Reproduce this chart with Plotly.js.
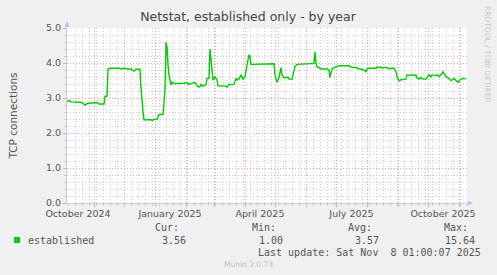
<!DOCTYPE html>
<html>
<head>
<meta charset="utf-8">
<script src="https://cdn.plot.ly/plotly-3.0.1.min.js"></script>
<style>
html,body{margin:0;padding:0;background:#f0f0f0;}
#chart{width:497px;height:275px;}
</style>
</head>
<body>
<div id="chart"></div>
<script>
// ---- data ----
const dates = [
 '2024-10-05','2024-10-07','2024-10-09','2024-10-19','2024-10-20','2024-10-23','2024-10-25','2024-10-27',
 '2024-11-03','2024-11-04','2024-11-06','2024-11-11','2024-11-12','2024-11-14','2024-11-15','2024-11-17',
 '2024-11-26','2024-11-29','2024-12-01','2024-12-04','2024-12-06','2024-12-08','2024-12-09','2024-12-11',
 '2024-12-13','2024-12-17','2024-12-18','2024-12-20','2024-12-21','2024-12-28','2024-12-29','2024-12-31',
 '2025-01-03','2025-01-05','2025-01-09','2025-01-10','2025-01-11','2025-01-12','2025-01-13','2025-01-14',
 '2025-01-15','2025-01-17','2025-01-18','2025-01-20','2025-01-28','2025-01-30','2025-02-02','2025-02-04',
 '2025-02-07','2025-02-10','2025-02-12','2025-02-13','2025-02-15','2025-02-16','2025-02-18','2025-02-21',
 '2025-02-22','2025-02-24','2025-02-25','2025-02-26','2025-02-27','2025-02-28','2025-03-02','2025-03-04',
 '2025-03-05','2025-03-13','2025-03-14','2025-03-16','2025-03-21','2025-03-23','2025-03-24','2025-03-26',
 '2025-03-28','2025-03-30','2025-04-01','2025-04-02','2025-04-03','2025-04-05','2025-04-06','2025-04-07',
 '2025-04-20','2025-04-22','2025-04-30','2025-05-01','2025-05-02','2025-05-03','2025-05-05','2025-05-07',
 '2025-05-08','2025-05-10','2025-05-14','2025-05-15','2025-05-18','2025-05-21','2025-05-23','2025-06-09',
 '2025-06-10','2025-06-11','2025-06-12','2025-06-14','2025-06-16','2025-06-22','2025-06-24','2025-06-25',
 '2025-06-27','2025-06-29','2025-07-02','2025-07-04','2025-07-14','2025-07-16','2025-07-21','2025-07-24',
 '2025-07-27','2025-07-29','2025-07-31','2025-08-01','2025-08-03','2025-08-10','2025-08-11','2025-08-13',
 '2025-08-15','2025-08-16','2025-08-18','2025-08-21','2025-08-23','2025-08-25','2025-08-28','2025-08-30',
 '2025-08-31','2025-09-02','2025-09-04','2025-09-07','2025-09-09','2025-09-10','2025-09-19','2025-09-20',
 '2025-09-22','2025-09-24','2025-09-26','2025-09-29','2025-09-30','2025-10-02','2025-10-04','2025-10-05',
 '2025-10-09','2025-10-10','2025-10-12','2025-10-14','2025-10-16','2025-10-19','2025-10-22','2025-10-24',
 '2025-10-27','2025-10-29','2025-10-31','2025-11-03','2025-11-06','2025-11-08'
];
const established = [
 2.89,2.93,2.89,2.89,2.87,2.80,2.84,2.85,
 2.85,2.87,2.83,2.83,3.05,3.05,3.83,3.85,
 3.85,3.83,3.85,3.84,3.82,3.84,3.80,3.77,
 3.82,3.82,3.28,2.61,2.38,2.38,2.36,2.39,
 2.39,2.53,2.53,2.85,3.25,4.59,4.47,3.94,
 3.66,3.37,3.45,3.41,3.41,3.42,3.44,3.39,
 3.42,3.45,3.36,3.32,3.32,3.39,3.34,3.39,
 3.56,3.56,4.40,4.07,3.61,3.51,3.61,3.51,
 3.35,3.34,3.31,3.39,3.39,3.56,3.51,3.54,
 3.66,3.54,3.61,3.85,3.94,4.23,4.18,3.96,
 3.96,3.98,3.98,3.66,3.56,3.45,3.58,3.87,
 3.66,3.58,3.59,3.54,3.54,3.90,3.96,3.99,
 4.32,3.98,3.90,3.87,3.83,3.83,3.80,3.59,
 3.83,3.87,3.90,3.92,3.92,3.88,3.87,3.83,
 3.82,3.80,3.75,3.83,3.85,3.85,3.89,3.87,
 3.89,3.85,3.87,3.87,3.83,3.85,3.85,3.75,
 3.61,3.49,3.52,3.52,3.54,3.66,3.65,3.58,
 3.54,3.58,3.54,3.54,3.58,3.66,3.61,3.66,
 3.64,3.66,3.61,3.66,3.75,3.61,3.56,3.49,
 3.56,3.51,3.45,3.54,3.56,3.54
];
const xRange = ['2024-10-05', '2025-11-09'];
const monthLabelDates = ['2024-10-16','2025-01-16','2025-04-16','2025-07-16 12:00','2025-10-16'];
const monthLabels = ['October 2024','January 2025','April 2025','July 2025','October 2025'];
const seriesName = 'established';
const statLabels = ['Cur:','Min:','Avg:','Max:'];
const statValues = ['3.56','1.00','3.57','15.64'];
const lastUpdate = 'Last update: Sat Nov\u00a0\u00a08 01:00:07 2025';

// ---- styling ----
const FONT = 'DejaVu Sans, sans-serif';
const MONO = 'DejaVu Sans Mono, monospace';
const MGRID = '#eaa0a0';
const GRID = '#cdcdcd';
const AXIS = '#c6caf2';
const L = 67, T = 28, W = 400, H = 175;
const px = x => (x - L) / W;
const py = y => (T + H - y) / H;

const trace = {
  x: dates, y: established, type: 'scatter', mode: 'lines',
  name: seriesName, line: {color: '#00cc00', width: 1.4}, hoverinfo: 'x+y'
};
// empty trace so the label axis (x2) gets drawn
const labelAxisTrace = {x: [], y: [], type: 'scatter', mode: 'lines', xaxis: 'x2', yaxis: 'y',
  showlegend: false, hoverinfo: 'skip'};

const statX = [181, 278, 374, 470];
const valX = [188, 285, 381, 477];
const annotations = [];
statLabels.forEach((s, i) => {
  annotations.push({xref:'paper', yref:'paper', x: px(statX[i]), y: py(227.5), xanchor:'right', yanchor:'middle',
    text: s, showarrow:false, font:{family:MONO, size:10, color:'#555'}});
  annotations.push({xref:'paper', yref:'paper', x: px(valX[i]), y: py(240), xanchor:'right', yanchor:'middle',
    text: statValues[i], showarrow:false, font:{family:MONO, size:10, color:'#555'}});
});
annotations.push({xref:'paper', yref:'paper', x: px(26), y: py(240), xanchor:'left', yanchor:'middle',
  text: seriesName, showarrow:false, font:{family:MONO, size:10, color:'#555'}});
annotations.push({xref:'paper', yref:'paper', x: px(483), y: py(252), xanchor:'right', yanchor:'middle',
  text: lastUpdate, showarrow:false, font:{family:MONO, size:10, color:'#555'}});
annotations.push({xref:'paper', yref:'paper', x: px(248), y: py(264), xanchor:'center', yanchor:'middle',
  text: 'Munin 2.0.73', showarrow:false, font:{family:FONT, size:7.5, color:'#c0c0c0'}});
annotations.push({xref:'paper', yref:'paper', x: px(488), y: py(54), xanchor:'center', yanchor:'middle',
  text: 'RRDTOOL / TOBI OETIKER', textangle: 90, showarrow:false, font:{family:FONT, size:7.5, color:'#c8c8c8'}});

const shapes = [
  // legend colour box
  {type:'rect', xref:'paper', yref:'paper', x0:px(14), x1:px(20), y0:py(243), y1:py(237),
   fillcolor:'#00cc00', line:{width:0}},
  // y axis arrow
  {type:'path', xref:'paper', yref:'paper',
   path:`M ${px(64.5)},${py(27)} L ${px(67)},${py(21)} L ${px(69.5)},${py(27)} Z`,
   fillcolor:'#b8bff0', line:{width:0}},
  // x axis arrow
  {type:'path', xref:'paper', yref:'paper',
   path:`M ${px(467.5)},${py(200.5)} L ${px(473)},${py(203)} L ${px(467.5)},${py(205.5)} Z`,
   fillcolor:'#b8bff0', line:{width:0}}
];

const layout = {
  width: 497, height: 275,
  margin: {l: L, r: 497 - L - W, t: T, b: 275 - T - H, pad: 0},
  paper_bgcolor: '#f0f0f0', plot_bgcolor: '#ffffff',
  showlegend: false,
  font: {family: FONT, size: 9.5, color: '#555'},
  title: {text: 'Netstat, established only - by year', xref:'container', yref:'container',
    x: 248/497, y: 1 - 17/275, xanchor:'center', yanchor:'middle',
    font: {family: FONT, size: 12.5, color: '#444'}},
  xaxis: {
    type: 'date', range: xRange, fixedrange: true,
    tick0: '2024-11-01', dtick: 'M1', showticklabels: false,
    ticks: 'outside', ticklen: 3, tickcolor: MGRID, tickwidth: 1,
    showgrid: true, gridcolor: MGRID, griddash: '1px,2px', gridwidth: 1,
    showline: true, linecolor: AXIS, linewidth: 1, zeroline: false,
    minor: {tick0: '2024-10-13', dtick: 7*24*3600*1000, showgrid: true, gridcolor: GRID,
      griddash: '1px,2px', gridwidth: 1, ticks: 'outside', ticklen: 2, tickcolor: GRID}
  },
  xaxis2: {
    type: 'date', range: xRange, overlaying: 'x', anchor: 'y', side: 'bottom', fixedrange: true,
    tickmode: 'array', tickvals: monthLabelDates, ticktext: monthLabels,
    showgrid: false, zeroline: false, showline: false, ticks: 'outside', ticklen: 2, tickcolor: 'rgba(0,0,0,0)',
    tickfont: {family: FONT, size: 9.5, color: '#555'}
  },
  yaxis: {
    range: [0, 5], fixedrange: true, dtick: 1, tick0: 0, tickformat: '.1f',
    ticks: 'outside', ticklen: 3, tickcolor: MGRID,
    showgrid: true, gridcolor: MGRID, griddash: '1px,2px', gridwidth: 1,
    showline: true, linecolor: AXIS, linewidth: 1, zeroline: false,
    tickfont: {family: FONT, size: 9.5, color: '#555'},
    title: {text: 'TCP connections', standoff: 26, font: {family: FONT, size: 10.5, color: '#555'}},
    minor: {dtick: 0.2, showgrid: true, gridcolor: GRID, griddash: '1px,2px', gridwidth: 1,
      ticks: 'outside', ticklen: 2, tickcolor: GRID}
  },
  annotations: annotations,
  shapes: shapes
};

Plotly.newPlot('chart', [trace, labelAxisTrace], layout, {displayModeBar: false, staticPlot: true});
</script>
</body>
</html>
